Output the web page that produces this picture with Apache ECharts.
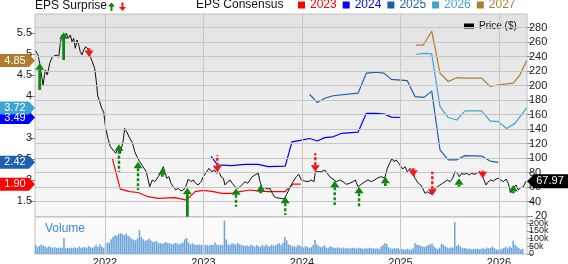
<!DOCTYPE html>
<html><head><meta charset="utf-8">
<script src="https://cdn.jsdelivr.net/npm/echarts@6/dist/echarts.min.js"></script>
<style>html,body{margin:0;padding:0;background:#fff}#c{width:568px;height:264px}</style>
</head><body><div id="c"></div>
<script>
// ---------- DATA ----------
const yearTicks = [2022, 2023, 2024, 2025, 2026];
const priceTicks = [20, 40, 60, 80, 100, 120, 140, 160, 180, 200, 220, 240, 260, 280];
const epsTicks = [1.5, 2, 2.5, 3, 3.5, 4, 4.5, 5, 5.5];
const volumeTicks = [0, 50000, 100000, 150000, 200000];

const priceDates = [2021.296,2021.320,2021.337,2021.371,2021.394,2021.414,2021.439,2021.462,2021.489,2021.513,2021.530,2021.546,2021.563,2021.584,2021.607,2021.627,2021.648,2021.665,2021.682,2021.698,2021.716,2021.733,2021.749,2021.766,2021.784,2021.804,2021.827,2021.851,2021.871,2021.895,2021.912,2021.926,2021.946,2021.966,2021.987,
2022.007,2022.030,2022.054,2022.081,2022.109,2022.132,2022.155,2022.183,2022.200,2022.223,2022.251,2022.277,2022.302,2022.325,2022.352,2022.386,2022.419,2022.454,2022.480,2022.505,
2022.541,2022.569,2022.592,2022.609,2022.626,2022.650,2022.670,2022.693,2022.718,2022.744,2022.772,2022.795,2022.819,2022.846,2022.873,2022.896,2022.921,2022.947,2022.975,2022.998,
2023.032,2023.056,2023.083,2023.110,2023.134,2023.157,2023.178,2023.201,2023.218,2023.246,2023.269,2023.292,2023.320,2023.347,2023.371,2023.394,2023.421,2023.449,2023.472,2023.495,2023.523,2023.556,2023.574,2023.597,2023.624,2023.652,2023.675,2023.699,2023.719,2023.743,2023.777,
2023.790,2023.817,2023.841,2023.875,2023.909,2023.942,2023.967,2023.993,2024.027,2024.061,2024.094,2024.122,2024.135,2024.162,2024.196,2024.231,2024.257,2024.281,2024.315,2024.348,2024.383,2024.416,2024.450,2024.484,2024.518,2024.541,2024.569,2024.602,2024.637,2024.670,2024.704,2024.738,2024.772,2024.805,2024.840,2024.866,2024.890,2024.914,2024.934,2024.957,2024.982,
2024.995,2025.022,2025.046,2025.069,2025.096,2025.124,2025.147,2025.181,2025.205,2025.225,2025.249,2025.272,2025.299,2025.323,2025.350,2025.374,2025.401,2025.428,2025.452,2025.475,2025.503,2025.530,2025.553,2025.577,2025.597,2025.621,2025.645,2025.672,2025.698,2025.723,2025.746,2025.773,2025.800,2025.824,2025.840,2025.868,2025.891,2025.916,2025.942,2025.970,2025.993,2026.017,2026.044,2026.071,2026.094,2026.119,2026.145,2026.173,2026.196,2026.220,2026.247,2026.274];
const priceValues = [247.6,242.1,230.6,200.7,221.4,214.5,230.6,238.9,241.1,242.1,238.9,258.2,269.7,262.8,272.0,265.1,269.7,260.4,265.1,251.3,262.8,255.9,246.6,242.1,249.0,253.5,250.3,239.7,232.8,223.7,205.2,185.9,177.7,168.6,163.0,
141.0,127.2,115.6,111.0,106.5,113.4,106.5,122.5,141.0,135.4,127.2,121.7,108.7,101.8,94.9,88.0,81.1,60.4,69.7,67.3,
74.2,81.1,88.0,85.8,72.0,74.2,65.1,60.4,55.9,58.2,54.5,55.9,60.4,71.0,67.3,69.7,65.1,62.8,67.3,74.2,
81.1,85.8,81.1,83.4,78.9,81.1,74.2,72.0,62.8,67.3,69.7,65.1,60.4,58.2,60.4,63.7,67.3,65.1,69.7,74.2,76.6,78.9,67.3,58.2,59.0,57.2,58.2,51.3,46.6,45.2,44.4,
44.4,43.4,49.0,58.2,67.3,74.2,77.5,69.7,68.3,67.3,69.7,67.3,81.1,81.1,81.1,83.4,78.9,74.2,71.0,67.3,69.7,67.3,63.7,65.1,67.3,69.7,60.4,63.7,67.3,69.7,67.3,69.7,72.8,74.2,72.0,85.8,92.7,99.6,94.9,97.2,92.7,
90.3,84.8,88.0,81.1,85.8,81.1,72.0,65.1,62.8,58.2,51.3,53.5,51.3,49.9,58.2,60.4,62.8,65.1,67.3,69.7,67.3,72.0,81.1,78.9,74.2,78.9,77.5,78.9,76.6,78.9,77.5,78.9,81.1,78.9,72.0,62.8,67.3,69.7,68.3,71.0,72.0,69.7,67.3,71.0,65.1,52.1,58.2,62.8,55.9,59.0,60.4,67.97];

const eps2023Dates = [2022.074,2022.155,2022.251,2022.335,2022.437,2022.538,2022.711,2022.829,2022.914,2022.998,2023.100,2023.185,2023.286,2023.371,2023.472,2023.556,2023.657,2023.824,2023.909,2023.987];
const eps2023Values = [2.52,1.78,1.72,1.70,1.60,1.56,1.58,1.52,1.72,1.75,1.72,1.68,1.68,1.72,1.76,1.74,1.72,1.72,1.90,1.90];
const eps2024Dates = [2023.076,2023.144,2023.286,2023.421,2023.556,2023.657,2023.830,2023.898,2023.993,2024.078,2024.155,2024.231,2024.315,2024.399,2024.569,2024.653,2024.754,2024.840,2024.907,2024.995];
const eps2024Values = [2.56,2.36,2.34,2.37,2.37,2.32,2.33,2.91,2.95,2.99,2.93,3.01,3.03,3.11,3.14,3.59,3.59,3.57,3.50,3.49];
const eps2025Dates = [2024.078,2024.155,2024.231,2024.315,2024.569,2024.653,2024.754,2024.832,2024.907,2025.069,2025.147,2025.239,2025.317,2025.401,2025.485,2025.571,2025.655,2025.824,2025.909,2025.993];
const eps2025Values = [4.04,3.85,3.95,4.01,4.07,4.55,4.57,4.55,4.40,4.37,3.99,3.97,4.12,2.72,2.48,2.48,2.58,2.57,2.45,2.42];
const eps2026Dates = [2025.157,2025.249,2025.317,2025.401,2025.485,2025.571,2025.655,2025.824,2025.909,2025.993,2026.078,2026.162,2026.281];
const eps2026Values = [5.00,5.02,5.01,3.75,3.49,3.43,3.65,3.65,3.41,3.39,3.23,3.35,3.72];
const eps2027Dates = [2025.157,2025.231,2025.317,2025.401,2025.485,2025.571,2025.655,2025.824,2025.909,2025.993,2026.145,2026.213,2026.281];
const eps2027Values = [5.22,5.22,5.55,4.55,4.35,4.44,4.43,4.43,4.23,4.27,4.31,4.51,4.85];

// EPS surprise arrows: date, stem end (price units), arrow tip (price units), dashed stem
const surpriseDates = [2021.337,2021.580,2021.838,2022.142,2022.335,2022.582,2022.836,2023.140,2023.330,2023.581,2023.830,2024.135,2024.332,2024.579,2024.846,2025.130,2025.323,2025.594,2025.834,2026.145];
const surpriseTail  = [193.8,235.2,251.3,81.1,55.9,74.2,19.0,104.1,32.8,51.3,21.4,106.5,35.2,32.8,61.4,85.8,81.1,60.4,82.5,51.3];
const surpriseTip   = [230.6,273.4,239.3,118.9,94.9,85.8,59.0,80.3,58.2,62.8,46.6,81.1,68.7,60.4,74.2,74.2,48.0,72.0,72.0,62.8];
const surpriseDashed = [0,0,0,1,1,0,0,1,1,0,1,1,1,1,0,0,1,0,0,0];

// weekly volume (thousands of shares), first week starting 2021-04-19
const volumeStart = '2021-04-19';
const volumeK = [
58,45,52,62,55,48,42,50,44,40,46,40,38,42,40,104,38,40,37,42,40,43,38,48,40,42,45,40,52,44,39,47,58,45,62,50,40,
68,72,75,95,110,122,118,130,135,128,122,132,118,108,98,92,88,102,155,112,95,86,90,100,88,78,80,85,72,70,66,72,78,68,70,64,66,72,68,62,70,74,96,104,75,62,70,64,58,60,62,58,
55,60,58,55,62,58,75,62,56,60,58,216,95,62,58,70,66,60,72,64,58,54,52,55,50,60,55,46,58,52,45,56,50,62,54,48,60,52,56,64,70,58,72,110,88,62,58,48,52,45,60,54,
48,42,52,46,40,44,58,93,62,50,44,48,56,42,40,50,46,40,38,44,40,36,42,38,40,36,38,40,37,35,40,38,36,34,38,35,40,36,38,34,37,33,48,58,70,66,44,36,34,38,35,40,
28,32,30,28,34,30,28,38,70,62,58,52,48,45,52,58,62,68,50,38,32,40,66,60,50,42,38,44,40,207,52,60,48,36,40,38,32,35,30,34,32,36,30,34,38,32,42,36,40,48,38,30,
28,30,34,40,46,36,50,40,88,60,48,38,30,34];

const seriesNames = ['2023', '2024', '2025', '2026', '2027'];
const seriesColors = ['#ff0000', '#0000ff', '#1f5faf', '#3ea4d2', '#b07c2c'];
const epsDates = [eps2023Dates, eps2024Dates, eps2025Dates, eps2026Dates, eps2027Dates];
const epsValues = [eps2023Values, eps2024Values, eps2025Values, eps2026Values, eps2027Values];

// ---------- CHART ----------
const FONT = "'Liberation Sans', Arial, Helvetica, sans-serif";
const xMin = 2021.2893, xMax = 2026.2843;
const priceMin = 18.62, priceMax = 298.6;
const epsMin = 1.1158, epsMax = 5.9606;
const volMax = 240000;

function toYear(dateStr) {
  const d = new Date(dateStr + 'T00:00:00Z');
  const y = d.getUTCFullYear();
  const s = Date.UTC(y, 0, 1), e = Date.UTC(y + 1, 0, 1);
  return y + (d.getTime() - s) / (e - s);
}
const vStart = toYear(volumeStart);
const volumeData = volumeK.map((v, i) => [vStart + i * 7 / 365.25, v * 1000]);

const chart = echarts.init(document.getElementById('c'), null, { renderer: 'canvas' });

const gridLineStyle = { color: '#c6c6c6', width: 1, type: 'solid' };

const series = [];
series.push({
  type: 'line', xAxisIndex: 0, yAxisIndex: 1, data: [[xMin, priceMin]], showSymbol: false, silent: true, z: 1,
  lineStyle: { opacity: 0 },
  markLine: {
    silent: true, symbol: ['none', 'none'], label: { show: false }, lineStyle: gridLineStyle, animation: false,
    data: priceTicks.map(v => ({ yAxis: v })).concat(yearTicks.map(v => ({ xAxis: v })))
  }
});
series.push({
  type: 'line', xAxisIndex: 1, yAxisIndex: 2, data: [[xMin, 0]], showSymbol: false, silent: true, z: 1,
  lineStyle: { opacity: 0 },
  markLine: {
    silent: true, symbol: ['none', 'none'], label: { show: false }, lineStyle: gridLineStyle, animation: false,
    data: yearTicks.map(v => ({ xAxis: v }))
  }
});
seriesNames.forEach((n, k) => {
  series.push({
    name: n, type: 'line', xAxisIndex: 0, yAxisIndex: 0, showSymbol: false, z: 3,
    color: seriesColors[k],
    lineStyle: { color: seriesColors[k], width: 1.2 },
    data: epsDates[k].map((t, i) => [t, epsValues[k][i]])
  });
});
series.push({
  name: 'Price ($)', type: 'line', xAxisIndex: 0, yAxisIndex: 1, showSymbol: false, z: 4,
  color: '#000', lineStyle: { color: '#111', width: 1 },
  data: priceDates.map((t, i) => [t, priceValues[i]])
});
series.push({
  type: 'custom', xAxisIndex: 0, yAxisIndex: 1, z: 5, clip: false, silent: true,
  encode: { x: 0, y: 2 },
  data: surpriseDates.map((t, i) => [t, surpriseTail[i], surpriseTip[i], surpriseDashed[i]]),
  renderItem: function (params, api) {
    const t = api.value(0), tail = api.value(1), tip = api.value(2), dashed = api.value(3);
    const pTip = api.coord([t, tip]);
    const pTail = api.coord([t, tail]);
    const up = tip > tail;
    const color = up ? '#0d870d' : '#f31414';
    const hw = 4.5, hh = 6.5;
    const x = pTip[0];
    const baseY = up ? pTip[1] + hh : pTip[1] - hh;
    const children = [];
    const stemLen = up ? pTail[1] - baseY : baseY - pTail[1];
    if (stemLen > 0) {
      children.push({
        type: 'line', shape: { x1: x, y1: baseY, x2: x, y2: pTail[1] },
        style: { stroke: color, lineWidth: dashed ? 2.4 : 2.8, lineDash: dashed ? [3, 2] : null }
      });
    }
    children.push({
      type: 'polygon', shape: { points: [[x, pTip[1]], [x - hw, baseY], [x + hw, baseY]] },
      style: { fill: color }
    });
    return { type: 'group', children: children };
  }
});
series.push({
  name: 'Volume', type: 'bar', xAxisIndex: 1, yAxisIndex: 2, barWidth: 1.5, z: 3,
  itemStyle: { color: '#6aa3da' },
  data: volumeData
});

// right-side axes: labels split over twin axes (same scale) so that close labels are all kept
function rightAxis(gridIndex, min, max, values, fontSize, formatter, showLabels) {
  return {
    type: 'value', gridIndex: gridIndex, position: 'right', min: min, max: max, axisLine: { show: false },
    splitLine: { show: false },
    axisTick: { show: true, customValues: values, length: 6, lineStyle: { color: '#8a8a8a' } },
    axisLabel: { show: showLabels, customValues: values, fontSize: fontSize, color: '#222', margin: 2, fontFamily: FONT,
      hideOverlap: false, showMinLabel: true, showMaxLabel: true, formatter: formatter }
  };
}
const volFmt = v => v === 0 ? '0' : (v / 1000) + 'k';
const priceFmt = v => String(v);

const option = {
  animation: false,
  textStyle: { fontFamily: FONT },
  grid: [
    { left: 35, top: 14, width: 492, height: 203, show: true, borderColor: '#c2c2c2', borderWidth: 1,
      outerBoundsMode: 'none',
      backgroundColor: { type: 'linear', x: 0, y: 0, x2: 0, y2: 1, colorStops: [{ offset: 0, color: '#e2e2e2' }, { offset: 1, color: '#f8f8f8' }] } },
    { left: 35, top: 217, width: 492, height: 37, show: true, borderColor: '#c2c2c2', borderWidth: 1,
      outerBoundsMode: 'none', backgroundColor: '#fbfbfb' }
  ],
  xAxis: [
    { type: 'value', gridIndex: 0, min: xMin, max: xMax, axisLine: { show: false }, axisTick: { show: false },
      axisLabel: { show: false }, splitLine: { show: false } },
    { type: 'value', gridIndex: 1, min: xMin, max: xMax, axisLine: { show: false }, axisTick: { show: false },
      splitLine: { show: false },
      axisLabel: { customValues: yearTicks, formatter: v => String(Math.round(v)), fontSize: 11, color: '#222', margin: 3, fontFamily: FONT, hideOverlap: false } }
  ],
  yAxis: [
    { type: 'value', gridIndex: 0, position: 'left', min: epsMin, max: epsMax, axisLine: { show: false },
      splitLine: { show: false },
      axisTick: { show: true, customValues: epsTicks, length: 6, lineStyle: { color: '#8a8a8a' } },
      axisLabel: { customValues: epsTicks, fontSize: 11, color: '#222', margin: 3, fontFamily: FONT, formatter: v => String(v), hideOverlap: false } },
    rightAxis(0, priceMin, priceMax, priceTicks.slice(1), 11, priceFmt, true),
    rightAxis(1, 0, volMax, volumeTicks.filter((v, i) => i % 2 === 1), 9, volFmt, true),
    rightAxis(0, priceMin, priceMax, priceTicks.slice(0, 1), 11, priceFmt, false),
    rightAxis(1, 0, volMax, volumeTicks.filter((v, i) => i % 2 === 0), 9, volFmt, true)
  ],
  legend: [
    { data: seriesNames.map((n, k) => ({ name: n, textStyle: { color: seriesColors[k] } })),
      left: 298, top: -1, padding: 0, itemWidth: 7, itemHeight: 7, itemGap: 6, icon: 'rect',
      selectedMode: false, textStyle: { fontSize: 12, fontFamily: FONT } },
    { data: ['Price ($)'], left: 464, top: 21, padding: 0, itemWidth: 10, itemHeight: 5, icon: 'rect',
      selectedMode: false, textStyle: { fontSize: 10, color: '#111', fontFamily: FONT } }
  ],
  series: series
};
chart.setOption(option);

// ---------- overlay labels, positioned through the chart's own scales ----------
const graphics = [];
graphics.push({ type: 'text', left: 35, top: 0, z: 100, style: { text: 'EPS Surprise', fill: '#111', font: '12px ' + FONT } });
graphics.push({ type: 'polygon', z: 100, shape: { points: [[111.5, 2.5], [108, 6.5], [110.5, 6.5], [110.5, 11], [112.5, 11], [112.5, 6.5], [115, 6.5]] }, style: { fill: '#0d870d' } });
graphics.push({ type: 'polygon', z: 100, shape: { points: [[122.5, 11], [119, 7], [121.5, 7], [121.5, 2.5], [123.5, 2.5], [123.5, 7], [126, 7]] }, style: { fill: '#f31414' } });
graphics.push({ type: 'text', left: 196, top: -1, z: 100, style: { text: 'EPS Consensus', fill: '#111', font: '12px ' + FONT } });
graphics.push({ type: 'text', left: 45, top: 223, z: 100, style: { text: 'Volume', fill: '#3b8dd6', font: '12px ' + FONT } });

// lowest price tick label (the axis hides it next to the volume panel)
const y20 = chart.convertToPixel({ yAxisIndex: 1 }, priceTicks[0]);
graphics.push({ type: 'text', z: 100, x: 535, y: y20, style: { text: priceFmt(priceTicks[0]), fill: '#222', font: '11px ' + FONT, textAlign: 'left', textVerticalAlign: 'middle' } });

const badgeOrder = [0, 2, 1, 3, 4];
badgeOrder.forEach(k => {
  const v = epsValues[k][epsValues[k].length - 1];
  const y = chart.convertToPixel({ yAxisIndex: 0 }, v);
  graphics.push({ type: 'polygon', z: 110, shape: { points: [[0, y - 6.5], [29, y - 6.5], [35, y], [29, y + 6.5], [0, y + 6.5]] }, style: { fill: seriesColors[k] } });
  graphics.push({ type: 'text', z: 111, x: 15, y: y, style: { text: v.toFixed(2), fill: '#fff', font: '11px ' + FONT, textAlign: 'center', textVerticalAlign: 'middle' } });
});
const lastPrice = priceValues[priceValues.length - 1];
const py = chart.convertToPixel({ yAxisIndex: 1 }, lastPrice);
graphics.push({ type: 'polygon', z: 110, shape: { points: [[527, py], [534, py - 7], [568, py - 7], [568, py + 7], [534, py + 7]] }, style: { fill: '#000' } });
graphics.push({ type: 'text', z: 111, x: 550, y: py, style: { text: lastPrice.toFixed(2), fill: '#fff', font: '11px ' + FONT, textAlign: 'center', textVerticalAlign: 'middle' } });

chart.setOption({ graphic: graphics });
</script>
</body></html>
